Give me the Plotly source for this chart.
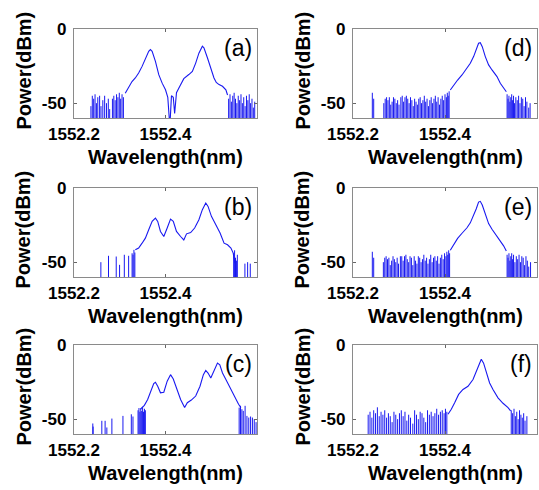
import plotly.graph_objects as go

# ---------------- data ----------------
TICK_X = [1552.2, 1552.4]
TICK_X_TEXT = ["1552.2", "1552.4"]
TICK_Y = [0, -50]
TICK_Y_TEXT = ["0", "-50"]
LABELS = ["(a)", "(b)", "(c)", "(d)", "(e)", "(f)"]

# (a) two peaks
A_WL = [1552.312, 1552.3194, 1552.3268, 1552.334, 1552.3413, 1552.3488, 1552.356, 1552.3633,
        1552.367, 1552.3708, 1552.378, 1552.3853, 1552.3927, 1552.400, 1552.405, 1552.4095,
        1552.413, 1552.417, 1552.420, 1552.424, 1552.429, 1552.440, 1552.451, 1552.4587,
        1552.466, 1552.473, 1552.4806, 1552.484, 1552.4916, 1552.499, 1552.506, 1552.511,
        1552.517, 1552.5246, 1552.532, 1552.5356]
A_DB = [-43.3, -38.8, -35.4, -33.0, -29.7, -25.2, -19.5, -15.0,
        -13.9, -15.0, -21.8, -30.8, -36.5, -41.0, -46.0, -66.0,
        -45.0, -46.0, -57.0, -43.0, -40.0, -33.5, -30.7, -28.6,
        -23.0, -16.3, -11.6, -12.7, -19.4, -27.0, -33.0, -36.0,
        -37.5, -38.6, -41.0, -44.5]
A_SPK_WL = [1552.237, 1552.240, 1552.243, 1552.246, 1552.249, 1552.252, 1552.256, 1552.259,
            1552.263, 1552.267, 1552.271, 1552.275, 1552.278, 1552.284, 1552.287, 1552.290,
            1552.293, 1552.296, 1552.299, 1552.302, 1552.305, 1552.308,
            1552.538, 1552.541, 1552.544, 1552.547, 1552.550, 1552.553, 1552.556, 1552.559,
            1552.562, 1552.565, 1552.568, 1552.571, 1552.574, 1552.577, 1552.580, 1552.583,
            1552.586, 1552.589, 1552.592, 1552.595]
A_SPK_DB = [-52, -45, -47, -44, -50, -46, -45, -52,
            -48, -45, -50, -47, -54, -47, -45, -48,
            -44, -46, -43, -47, -44, -46,
            -47, -44, -49, -45, -43, -47, -50, -45,
            -48, -44, -50, -46, -52, -45, -48, -44,
            -50, -47, -53, -49]

# (b) three peaks
B_WL = [1552.334, 1552.3413, 1552.3488, 1552.356, 1552.3633, 1552.3708, 1552.378, 1552.383,
        1552.389, 1552.3963, 1552.4037, 1552.411, 1552.417, 1552.424, 1552.433, 1552.440,
        1552.446, 1552.455, 1552.4637, 1552.473, 1552.4806, 1552.488, 1552.493, 1552.5004,
        1552.510, 1552.5193, 1552.528, 1552.5356, 1552.543, 1552.548, 1552.5516]
B_DB = [-41.7, -40.5, -37.2, -33.8, -28.2, -22.5, -20.3, -22.5,
        -29.3, -32.7, -27.0, -21.0, -22.5, -29.3, -32.7, -35.0,
        -30.9, -30.0, -27.0, -21.4, -14.6, -10.1, -12.4, -19.1,
        -24.8, -30.4, -37.2, -38.3, -40.5, -43.9, -50.7]
B_SPK_WL = [1552.2587, 1552.2754, 1552.2923, 1552.2996, 1552.310, 1552.3194, 1552.327,
            1552.329, 1552.331, 1552.333,
            1552.549, 1552.551, 1552.553, 1552.555, 1552.557, 1552.5736, 1552.5795, 1552.5853]
B_SPK_DB = [-50.0, -45.7, -46.2, -51.8, -45.0, -45.7, -44.0,
            -45.0, -41.7, -43.5,
            -44.0, -42.0, -47.0, -49.0, -45.0, -51.0, -50.0, -51.0]

# (c) four peaks
C_WL = [1552.345, 1552.3538, 1552.361, 1552.3685, 1552.3743, 1552.378, 1552.383, 1552.389,
        1552.3963, 1552.4037, 1552.411, 1552.417, 1552.424, 1552.433, 1552.4418, 1552.4477,
        1552.4565, 1552.466, 1552.4754, 1552.4828, 1552.488, 1552.493, 1552.499, 1552.506,
        1552.5136, 1552.5187, 1552.5246, 1552.532, 1552.5413, 1552.5516, 1552.5597, 1552.5648]
C_DB = [-43.3, -40.7, -36.7, -30.0, -26.0, -25.1, -27.8, -32.2,
        -31.8, -24.4, -20.0, -22.9, -28.9, -36.7, -42.2, -38.9,
        -37.1, -34.4, -27.8, -20.0, -17.1, -18.9, -22.2, -17.8,
        -12.2, -13.3, -18.9, -23.3, -28.9, -35.6, -40.0, -42.2]
C_SPK_WL = [1552.2411, 1552.2418, 1552.2608, 1552.268, 1552.2718, 1552.2828, 1552.307,
            1552.3253, 1552.3289, 1552.340, 1552.342, 1552.344, 1552.346, 1552.348,
            1552.350, 1552.352, 1552.354, 1552.356,
            1552.561, 1552.564, 1552.567, 1552.570, 1552.574, 1552.578, 1552.582,
            1552.586, 1552.590, 1552.594, 1552.598]
C_SPK_DB = [-52.9, -55.0, -51.1, -51.1, -55.6, -49.6, -47.8,
            -46.7, -48.2, -44.0, -42.5, -45.0, -43.0, -44.5,
            -42.0, -45.0, -43.0, -44.0,
            -42.2, -41.0, -43.3, -44.4, -41.0, -47.8, -48.9,
            -48.2, -48.9, -50.0, -52.0]

# (d) single peak
D_WL = [1552.4115, 1552.4187, 1552.4274, 1552.437, 1552.4478, 1552.455, 1552.4622, 1552.468,
        1552.473, 1552.4767, 1552.481, 1552.4876, 1552.4948, 1552.5022, 1552.513, 1552.5202,
        1552.5274, 1552.5333]
D_DB = [-41.1, -37.7, -34.4, -31.0, -26.5, -23.1, -18.6, -14.1,
        -9.6, -9.2, -11.9, -18.6, -24.2, -27.6, -32.1, -36.6,
        -39.3, -42.3]
D_SPK_WL = [1552.242, 1552.245, 1552.267, 1552.270, 1552.273, 1552.276, 1552.279, 1552.282,
            1552.285, 1552.288, 1552.291, 1552.294, 1552.297, 1552.300, 1552.304, 1552.307,
            1552.310, 1552.313, 1552.316, 1552.319, 1552.322, 1552.325, 1552.328, 1552.331,
            1552.334, 1552.337, 1552.340, 1552.343, 1552.346, 1552.349, 1552.352, 1552.355,
            1552.358, 1552.361, 1552.364, 1552.367, 1552.370, 1552.373, 1552.376, 1552.379,
            1552.382, 1552.385, 1552.388, 1552.391, 1552.394, 1552.397, 1552.400, 1552.403,
            1552.405, 1552.407, 1552.409,
            1552.535, 1552.537, 1552.539, 1552.541, 1552.543, 1552.545, 1552.547, 1552.549,
            1552.551, 1552.554, 1552.557, 1552.560, 1552.563, 1552.566, 1552.569, 1552.572,
            1552.575, 1552.578, 1552.582, 1552.585]
D_SPK_DB = [-43, -47, -50, -47, -46, -48, -46, -51,
            -49, -46, -47, -50, -48, -51, -46, -45,
            -49, -46, -45, -47, -50, -46, -48, -52,
            -47, -49, -51, -47, -46, -50, -48, -45,
            -49, -47, -52, -48, -46, -50, -47, -45,
            -49, -46, -51, -47, -45, -48, -44, -46,
            -43, -45, -42,
            -44, -47, -45, -49, -46, -44, -48, -45,
            -50, -46, -48, -45, -50, -46, -47, -52,
            -46, -49, -53, -50]

# (e) single peak
E_WL = [1552.4115, 1552.4187, 1552.4274, 1552.437, 1552.4478, 1552.455, 1552.4622, 1552.468,
        1552.473, 1552.4767, 1552.481, 1552.4876, 1552.4948, 1552.5022, 1552.513, 1552.5202,
        1552.5274, 1552.5333]
E_DB = [-42.0, -38.0, -34.0, -30.5, -26.8, -23.5, -18.8, -14.0,
        -9.5, -9.0, -11.5, -18.0, -24.0, -27.8, -32.5, -36.0,
        -39.0, -42.5]
E_SPK_WL = [1552.242, 1552.245, 1552.266, 1552.269, 1552.272, 1552.275, 1552.278, 1552.281,
            1552.284, 1552.287, 1552.290, 1552.293, 1552.296, 1552.299, 1552.303, 1552.306,
            1552.309, 1552.312, 1552.315, 1552.318, 1552.321, 1552.324, 1552.327, 1552.330,
            1552.333, 1552.336, 1552.339, 1552.342, 1552.345, 1552.348, 1552.351, 1552.354,
            1552.357, 1552.360, 1552.363, 1552.366, 1552.369, 1552.372, 1552.375, 1552.378,
            1552.381, 1552.384, 1552.387, 1552.390, 1552.393, 1552.396, 1552.399, 1552.402,
            1552.404, 1552.406, 1552.408, 1552.410,
            1552.535, 1552.537, 1552.539, 1552.541, 1552.543, 1552.545, 1552.547, 1552.549,
            1552.552, 1552.555, 1552.558, 1552.561, 1552.564, 1552.567, 1552.570, 1552.573,
            1552.576, 1552.579, 1552.582, 1552.586]
E_SPK_DB = [-43, -47, -50, -47, -46, -48, -47, -52,
            -49, -46, -48, -50, -47, -51, -46, -46,
            -49, -46, -45, -48, -50, -46, -47, -52,
            -46, -49, -51, -46, -47, -50, -48, -45,
            -49, -47, -51, -48, -45, -50, -47, -46,
            -49, -46, -51, -47, -45, -48, -44, -46,
            -43, -45, -42, -44,
            -45, -47, -44, -49, -46, -44, -48, -45,
            -50, -46, -48, -45, -50, -46, -47, -52,
            -46, -49, -53, -50]

# (f) single peak
F_WL = [1552.4065, 1552.4137, 1552.421, 1552.4296, 1552.4391, 1552.450, 1552.4609, 1552.4702,
        1552.4752, 1552.4789, 1552.4839, 1552.4898, 1552.497, 1552.5043, 1552.5152, 1552.5261,
        1552.537, 1552.5426]
F_DB = [-46.7, -43.3, -38.9, -33.3, -30.0, -27.8, -23.3, -16.7,
        -12.2, -9.6, -12.2, -18.9, -25.6, -30.0, -35.6, -39.3,
        -42.2, -44.4]
F_SPK_WL = [1552.233, 1552.237, 1552.241, 1552.245, 1552.249, 1552.253, 1552.257, 1552.261,
            1552.265, 1552.269, 1552.273, 1552.277, 1552.281, 1552.285, 1552.289, 1552.293,
            1552.297, 1552.301, 1552.305, 1552.309, 1552.313, 1552.317, 1552.321, 1552.325,
            1552.330, 1552.334, 1552.338, 1552.342, 1552.346, 1552.350, 1552.354, 1552.358,
            1552.362, 1552.366, 1552.370, 1552.374, 1552.378, 1552.382, 1552.386, 1552.390,
            1552.394, 1552.398, 1552.401, 1552.404,
            1552.544, 1552.547, 1552.550, 1552.553, 1552.556, 1552.559, 1552.562, 1552.565,
            1552.568, 1552.571, 1552.574, 1552.578]
F_SPK_DB = [-47, -45, -49, -44, -46, -42, -48, -45,
            -47, -44, -49, -46, -48, -52, -45, -47,
            -50, -46, -44, -48, -45, -51, -47, -49,
            -53, -44, -47, -50, -45, -46, -49, -52,
            -44, -47, -45, -48, -46, -43, -47, -45,
            -44, -46, -43, -45,
            -44, -46, -43, -48, -45, -50, -44, -47,
            -49, -46, -51, -48]

CURVES = [(A_WL, A_DB), (B_WL, B_DB), (C_WL, C_DB), (D_WL, D_DB), (E_WL, E_DB), (F_WL, F_DB)]
SPIKES = [(A_SPK_WL, A_SPK_DB), (B_SPK_WL, B_SPK_DB), (C_SPK_WL, C_SPK_DB),
          (D_SPK_WL, D_SPK_DB), (E_SPK_WL, E_SPK_DB), (F_SPK_WL, F_SPK_DB)]

# ---------------- layout ----------------
W, H = 539, 490
COLS = [(74, 257), (353, 537)]
ROWS = [(29, 118), (188, 277), (345, 434)]
FONT = "Liberation Sans, Arial, sans-serif"
BLUE = "rgb(25,25,240)"
FLOOR = -75

fig = go.Figure()
annotations = []
layout = {}

for i in range(6):
    col, row = divmod(i, 3)
    x0, x1 = COLS[col]
    y0, y1 = ROWS[row]
    n = "" if i == 0 else str(i + 1)
    xa, ya = "x" + n, "y" + n
    # spikes as vertical segments
    sx, sy = [], []
    for w, d in zip(*SPIKES[i]):
        sx += [w, w, None]
        sy += [FLOOR, d, None]
    fig.add_trace(go.Scatter(x=sx, y=sy, mode="lines", line=dict(color=BLUE, width=1),
                             xaxis=xa, yaxis=ya, showlegend=False, hoverinfo="skip"))
    fig.add_trace(go.Scatter(x=CURVES[i][0], y=CURVES[i][1], mode="lines",
                             line=dict(color=BLUE, width=1.1),
                             xaxis=xa, yaxis=ya, showlegend=False))
    common = dict(showline=True, linecolor="#8a8a8a", linewidth=1.3, mirror="ticks",
                  ticks="inside", ticklen=3, tickcolor="#666666", showgrid=False,
                  zeroline=False, automargin=False,
                  tickfont=dict(family=FONT, size=17, color="black", weight="bold"))
    layout["xaxis" + n] = dict(domain=[x0 / W, x1 / W], range=[1552.2, 1552.6],
                               tickvals=TICK_X, ticktext=TICK_X_TEXT, anchor=ya, **common)
    layout["yaxis" + n] = dict(domain=[1 - y1 / H, 1 - y0 / H], range=[-60, 0],
                               tickvals=TICK_Y, ticktext=TICK_Y_TEXT, anchor=xa,
                               ticklabelstandoff=3, **common)
    # panel letter
    annotations.append(dict(text=LABELS[i], xref="paper", yref="paper",
                            x=(x1 - 3) / W, y=1 - (y0 + 19) / H, xanchor="right", yanchor="middle",
                            showarrow=False, font=dict(family=FONT, size=23, color="black")))
    # axis titles
    annotations.append(dict(text="Wavelength(nm)", xref="paper", yref="paper",
                            x=((x0 + x1) / 2 - 0) / W, y=1 - (y1 + 39) / H,
                            xanchor="center", yanchor="middle", showarrow=False,
                            font=dict(family=FONT, size=20, color="black", weight="bold")))
    annotations.append(dict(text="Power(dBm)", xref="paper", yref="paper",
                            x=(x0 - 51) / W, y=1 - ((y0 + y1) / 2 - 3) / H, textangle=-90,
                            xanchor="center", yanchor="middle", showarrow=False,
                            font=dict(family=FONT, size=20, color="black", weight="bold")))

fig.update_layout(width=W, height=H, margin=dict(l=0, r=0, t=0, b=0, pad=0, autoexpand=False),
                  paper_bgcolor="white", plot_bgcolor="white", showlegend=False,
                  annotations=annotations, **layout)
fig.write_html("out.html", config={"displayModeBar": False},
               post_script="document.body.style.margin='0';document.body.style.overflow='hidden';")
